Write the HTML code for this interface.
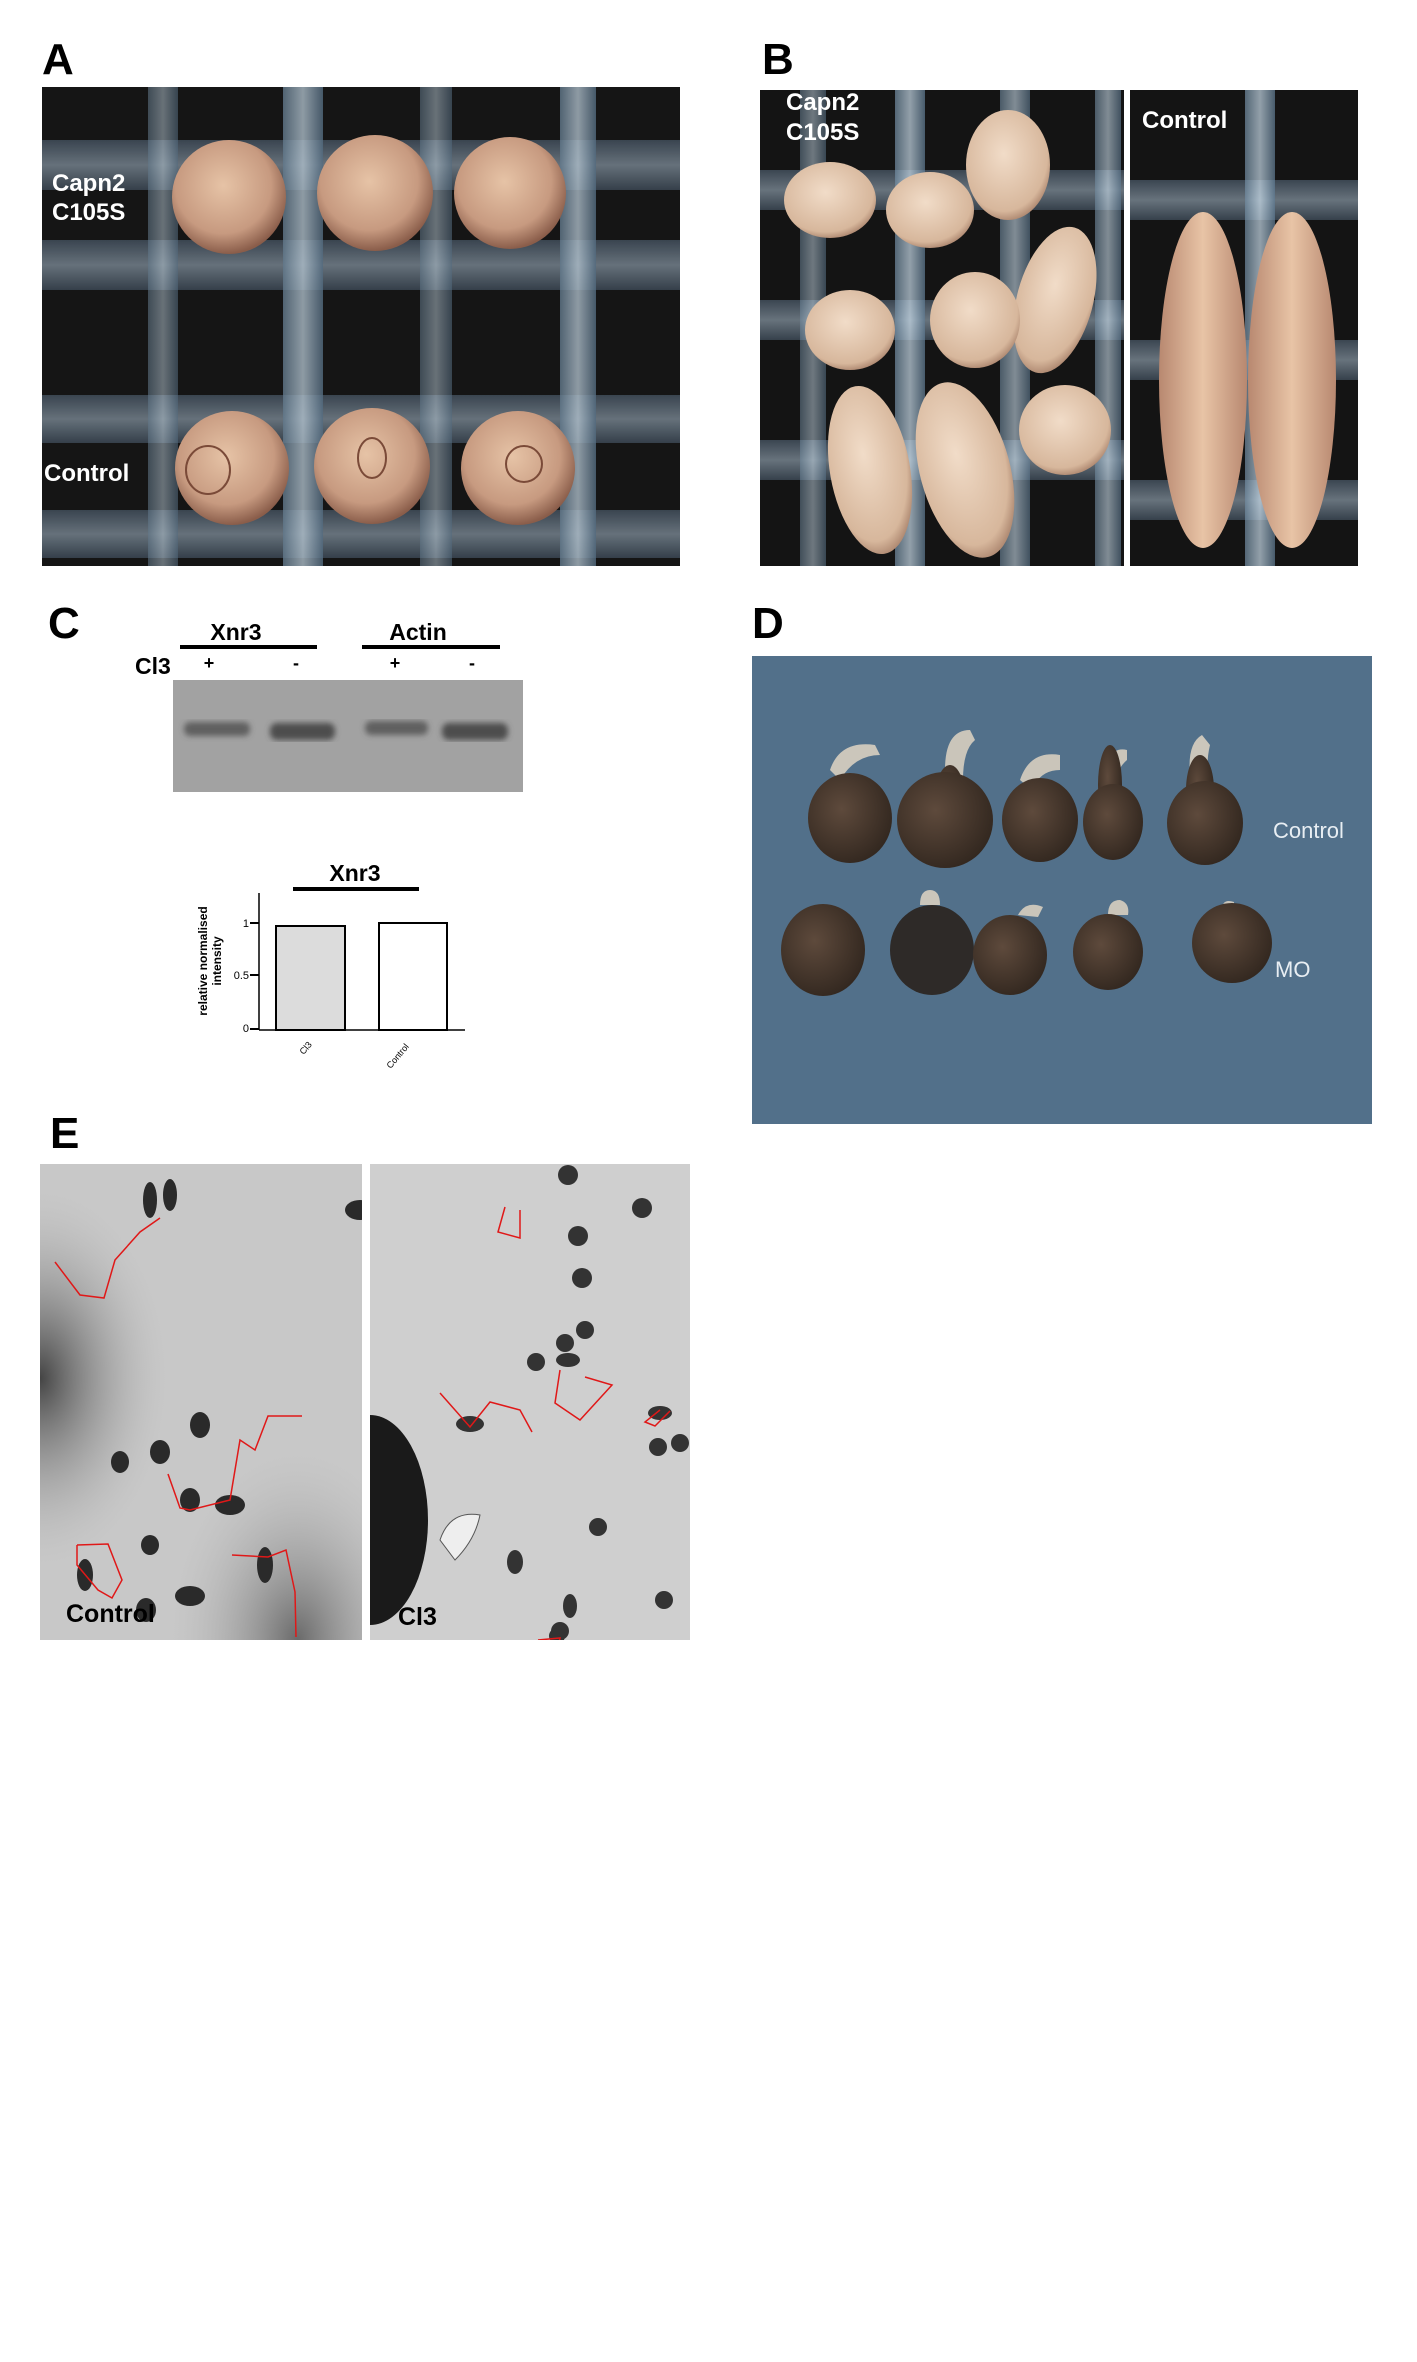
<!DOCTYPE html>
<html><head><meta charset="utf-8"><style>
body{margin:0;background:#fff;}
svg{display:block;font-family:"Liberation Sans",Arial,sans-serif;}
</style></head><body>
<svg width="1417" height="2362" viewBox="0 0 1417 2362" xmlns="http://www.w3.org/2000/svg">
<defs>
<radialGradient id="egg" cx="45%" cy="40%" r="60%"><stop offset="0" stop-color="#e6c3a6"/><stop offset="0.7" stop-color="#c79a80"/><stop offset="1" stop-color="#8a5d4a"/></radialGradient>
<linearGradient id="vb" x1="0" x2="1"><stop offset="0" stop-color="#6f8aa0"/><stop offset="0.5" stop-color="#c9dcea"/><stop offset="1" stop-color="#5e7a92"/></linearGradient>
<linearGradient id="hb" x1="0" x2="0" y1="0" y2="1"><stop offset="0" stop-color="#55677a"/><stop offset="0.5" stop-color="#9fb2c2"/><stop offset="1" stop-color="#4c5e70"/></linearGradient>
<radialGradient id="emb" cx="45%" cy="40%" r="65%"><stop offset="0" stop-color="#f1dcc8"/><stop offset="0.8" stop-color="#d7b79c"/><stop offset="1" stop-color="#9e7660"/></radialGradient>
<linearGradient id="tad" x1="0" x2="1"><stop offset="0" stop-color="#b88870"/><stop offset="0.5" stop-color="#e8c4a6"/><stop offset="1" stop-color="#b88870"/></linearGradient>
<radialGradient id="dk" cx="40%" cy="40%" r="65%"><stop offset="0" stop-color="#5e4a3c"/><stop offset="1" stop-color="#32271f"/></radialGradient>
<radialGradient id="shade1" cx="0%" cy="45%" r="40%"><stop offset="0" stop-color="#444"/><stop offset="1" stop-color="#bbb" stop-opacity="0"/></radialGradient>
<radialGradient id="shade2" cx="80%" cy="100%" r="40%"><stop offset="0" stop-color="#6a6a6a"/><stop offset="1" stop-color="#bbb" stop-opacity="0"/></radialGradient>
<filter id="bl"><feGaussianBlur stdDeviation="3"/></filter>
<clipPath id="ca"><rect x="42" y="87" width="638" height="479"/></clipPath>
<clipPath id="cb1"><rect x="760" y="90" width="364" height="476"/></clipPath>
<clipPath id="cb2"><rect x="1130" y="90" width="228" height="476"/></clipPath>
<clipPath id="ce1"><rect x="40" y="1164" width="322" height="476"/></clipPath>
<clipPath id="ce2"><rect x="370" y="1164" width="320" height="476"/></clipPath>
</defs>

<g font-weight="bold" font-size="44" fill="#000">
<text x="42" y="74">A</text><text x="762" y="74">B</text>
<text x="48" y="638">C</text><text x="752" y="638">D</text>
<text x="50" y="1148">E</text>
</g>

<!-- Panel A -->
<g clip-path="url(#ca)">
<rect x="42" y="87" width="638" height="479" fill="#151515"/>
<g opacity="0.85">
<rect x="42" y="140" width="638" height="50" fill="url(#hb)" opacity="0.7"/>
<rect x="42" y="240" width="638" height="50" fill="url(#hb)" opacity="0.7"/>
<rect x="42" y="395" width="638" height="48" fill="url(#hb)" opacity="0.7"/>
<rect x="42" y="510" width="638" height="48" fill="url(#hb)" opacity="0.7"/>
<rect x="148" y="87" width="30" height="479" fill="url(#vb)" opacity="0.55"/>
<rect x="283" y="87" width="40" height="479" fill="url(#vb)" opacity="0.8"/>
<rect x="420" y="87" width="32" height="479" fill="url(#vb)" opacity="0.55"/>
<rect x="560" y="87" width="36" height="479" fill="url(#vb)" opacity="0.8"/>
</g>
<circle cx="229" cy="197" r="57" fill="url(#egg)"/>
<circle cx="375" cy="193" r="58" fill="url(#egg)"/>
<circle cx="510" cy="193" r="56" fill="url(#egg)"/>
<circle cx="232" cy="468" r="57" fill="url(#egg)"/>
<circle cx="372" cy="466" r="58" fill="url(#egg)"/>
<circle cx="518" cy="468" r="57" fill="url(#egg)"/>
<ellipse cx="208" cy="470" rx="22" ry="24" fill="none" stroke="#7a4a38" stroke-width="2"/>
<ellipse cx="372" cy="458" rx="14" ry="20" fill="none" stroke="#7a4a38" stroke-width="2"/>
<circle cx="524" cy="464" r="18" fill="none" stroke="#7a4a38" stroke-width="2"/>
</g>
<g fill="#fff" font-weight="bold" font-size="24">
<text x="52" y="191">Capn2</text><text x="52" y="220">C105S</text>
<text x="44" y="481">Control</text>
</g>

<!-- Panel B -->
<g clip-path="url(#cb1)">
<rect x="760" y="90" width="364" height="476" fill="#141414"/>
<rect x="760" y="170" width="364" height="40" fill="url(#hb)" opacity="0.6"/>
<rect x="760" y="300" width="364" height="40" fill="url(#hb)" opacity="0.6"/>
<rect x="760" y="440" width="364" height="40" fill="url(#hb)" opacity="0.6"/>
<rect x="800" y="90" width="26" height="476" fill="url(#vb)" opacity="0.5"/>
<rect x="895" y="90" width="30" height="476" fill="url(#vb)" opacity="0.7"/>
<rect x="1000" y="90" width="30" height="476" fill="url(#vb)" opacity="0.6"/>
<rect x="1095" y="90" width="26" height="476" fill="url(#vb)" opacity="0.6"/>
<ellipse cx="830" cy="200" rx="46" ry="38" fill="url(#emb)"/>
<ellipse cx="930" cy="210" rx="44" ry="38" fill="url(#emb)"/>
<ellipse cx="1008" cy="165" rx="42" ry="55" fill="url(#emb)"/>
<ellipse cx="1055" cy="300" rx="38" ry="75" fill="url(#emb)" transform="rotate(15 1055 300)"/>
<ellipse cx="975" cy="320" rx="45" ry="48" fill="url(#emb)"/>
<ellipse cx="850" cy="330" rx="45" ry="40" fill="url(#emb)"/>
<ellipse cx="870" cy="470" rx="40" ry="85" fill="url(#emb)" transform="rotate(-10 870 470)"/>
<ellipse cx="965" cy="470" rx="45" ry="90" fill="url(#emb)" transform="rotate(-15 965 470)"/>
<ellipse cx="1065" cy="430" rx="46" ry="45" fill="url(#emb)"/>
</g>
<g clip-path="url(#cb2)">
<rect x="1130" y="90" width="228" height="476" fill="#141414"/>
<rect x="1130" y="180" width="228" height="40" fill="url(#hb)" opacity="0.6"/>
<rect x="1130" y="340" width="228" height="40" fill="url(#hb)" opacity="0.6"/>
<rect x="1130" y="480" width="228" height="40" fill="url(#hb)" opacity="0.6"/>
<rect x="1245" y="90" width="30" height="476" fill="url(#vb)" opacity="0.7"/>
<ellipse cx="1203" cy="380" rx="44" ry="168" fill="url(#tad)"/>
<ellipse cx="1292" cy="380" rx="44" ry="168" fill="url(#tad)"/>
</g>
<g fill="#fff" font-weight="bold" font-size="24">
<text x="786" y="110">Capn2</text><text x="786" y="140">C105S</text>
<text x="1142" y="128">Control</text>
</g>

<!-- Panel C gel -->
<g font-weight="bold" fill="#000">
<text x="236" y="640" font-size="23" text-anchor="middle">Xnr3</text>
<text x="418" y="640" font-size="23" text-anchor="middle">Actin</text>
<text x="135" y="674" font-size="23">Cl3</text>
<text x="209" y="669" font-size="18" text-anchor="middle">+</text>
<text x="296" y="669" font-size="18" text-anchor="middle">-</text>
<text x="395" y="669" font-size="18" text-anchor="middle">+</text>
<text x="472" y="669" font-size="18" text-anchor="middle">-</text>
</g>
<rect x="180" y="645" width="137" height="4" fill="#000"/>
<rect x="362" y="645" width="138" height="4" fill="#000"/>
<rect x="173" y="680" width="350" height="112" fill="#a2a2a2"/>
<g fill="#4a4a4a" filter="url(#bl)">
<rect x="184" y="722" width="66" height="14" rx="6" opacity="0.75"/>
<rect x="270" y="723" width="65" height="17" rx="7" opacity="0.95"/>
<rect x="365" y="721" width="63" height="14" rx="6" opacity="0.75"/>
<rect x="442" y="723" width="66" height="17" rx="7" opacity="0.95"/>
</g>

<!-- Bar chart -->
<text x="355" y="881" font-size="23" font-weight="bold" text-anchor="middle">Xnr3</text>
<rect x="293" y="887" width="126" height="4" fill="#000"/>
<line x1="259" y1="893" x2="259" y2="1030" stroke="#000" stroke-width="1.5"/>
<line x1="259" y1="1030" x2="465" y2="1030" stroke="#000" stroke-width="1.5"/>
<rect x="276" y="926" width="69" height="104" fill="#dcdcdc" stroke="#000" stroke-width="2"/>
<rect x="379" y="923" width="68" height="107" fill="#fff" stroke="#000" stroke-width="2"/>
<g stroke="#000" stroke-width="2"><line x1="250" y1="923" x2="259" y2="923"/><line x1="250" y1="975" x2="259" y2="975"/><line x1="250" y1="1029" x2="259" y2="1029"/></g>
<g font-size="11" text-anchor="end"><text x="249" y="927">1</text><text x="249" y="979">0.5</text><text x="249" y="1032">0</text></g>
<text transform="translate(207 961) rotate(-90)" font-size="12" font-weight="bold" text-anchor="middle">relative  normalised</text>
<text transform="translate(221 961) rotate(-90)" font-size="12" font-weight="bold" text-anchor="middle">intensity</text>
<text transform="translate(308 1050) rotate(-50)" font-size="9" text-anchor="middle">Cl3</text>
<text transform="translate(400 1058) rotate(-50)" font-size="9" text-anchor="middle">Control</text>

<!-- Panel D -->
<rect x="752" y="656" width="620" height="468" fill="#52708a"/>
<g fill="#d8cfc0" opacity="0.9">
<path d="M830 770 q10 -30 45 -25 l5 10 q-25 0 -40 25z"/>
<path d="M945 770 q0 -40 25 -40 l5 10 q-12 10 -12 40z"/>
<path d="M1020 780 q10 -30 40 -25 l0 15 q-20 0 -28 20z"/>
<path d="M1102 780 q5 -35 25 -30 l0 10 q-12 10 -12 30z"/>
<path d="M1192 790 q-8 -45 10 -55 l8 10 q-5 20 0 45z"/>
<path d="M920 905 q0 -15 10 -15 q10 0 10 15z"/>
<path d="M1018 915 q8 -15 25 -8 l-5 10z"/>
<path d="M1108 915 q0 -15 12 -15 q10 3 8 15z"/>
<path d="M1222 910 q0 -12 12 -8 l0 10z"/>
</g>
<g fill="url(#dk)">
<ellipse cx="850" cy="818" rx="42" ry="45"/>
<ellipse cx="950" cy="805" rx="16" ry="40"/>
<ellipse cx="945" cy="820" rx="48" ry="48"/>
<ellipse cx="1040" cy="820" rx="38" ry="42"/>
<ellipse cx="1110" cy="785" rx="12" ry="40"/>
<ellipse cx="1113" cy="822" rx="30" ry="38"/>
<ellipse cx="1200" cy="790" rx="14" ry="35"/>
<ellipse cx="1205" cy="823" rx="38" ry="42"/>
<ellipse cx="823" cy="950" rx="42" ry="46"/>
<ellipse cx="932" cy="950" rx="42" ry="45" fill="#2e2a28"/>
<ellipse cx="1010" cy="955" rx="37" ry="40"/>
<ellipse cx="1108" cy="952" rx="35" ry="38"/>
<ellipse cx="1232" cy="943" rx="40" ry="40"/>
</g>
<g fill="#e8eef3" font-size="22"><text x="1273" y="838">Control</text><text x="1275" y="977">MO</text></g>

<!-- Panel E -->
<g clip-path="url(#ce1)">
<rect x="40" y="1164" width="322" height="476" fill="#c8c8c8"/>
<rect x="40" y="1164" width="322" height="476" fill="url(#shade1)"/>
<rect x="40" y="1164" width="322" height="476" fill="url(#shade2)"/>
<g fill="#2a2a2a">
<ellipse cx="150" cy="1200" rx="7" ry="18"/><ellipse cx="170" cy="1195" rx="7" ry="16"/>
<ellipse cx="200" cy="1425" rx="10" ry="13"/><ellipse cx="160" cy="1452" rx="10" ry="12"/>
<ellipse cx="120" cy="1462" rx="9" ry="11"/><ellipse cx="190" cy="1500" rx="10" ry="12"/>
<ellipse cx="230" cy="1505" rx="15" ry="10"/><ellipse cx="150" cy="1545" rx="9" ry="10"/>
<ellipse cx="190" cy="1596" rx="15" ry="10"/><ellipse cx="265" cy="1565" rx="8" ry="18"/>
<ellipse cx="146" cy="1610" rx="10" ry="12"/><ellipse cx="85" cy="1575" rx="8" ry="16"/>
<ellipse cx="360" cy="1210" rx="15" ry="10"/>
</g>
<g fill="none" stroke="#e01818" stroke-width="1.5">
<polyline points="55,1262 80,1295 104,1298 115,1260 140,1232 160,1218"/>
<polyline points="168,1474 180,1508 190,1510 230,1500 240,1440 255,1450 268,1416 302,1416"/>
<polyline points="77,1545 108,1544 122,1580 112,1598 98,1590 77,1565 77,1545"/>
<polyline points="232,1555 268,1557 286,1550 295,1592 296,1637"/>
</g>
</g>
<g clip-path="url(#ce2)">
<rect x="370" y="1164" width="320" height="476" fill="#cfcfcf"/>
<ellipse cx="370" cy="1520" rx="58" ry="105" fill="#1a1a1a"/>
<path d="M440 1540 q10 -30 40 -25 q-5 25 -25 45 z" fill="#eee" stroke="#555"/>
<g fill="#333">
<circle cx="568" cy="1175" r="10"/><circle cx="578" cy="1236" r="10"/><circle cx="582" cy="1278" r="10"/>
<circle cx="642" cy="1208" r="10"/><circle cx="565" cy="1343" r="9"/><circle cx="585" cy="1330" r="9"/>
<circle cx="536" cy="1362" r="9"/><circle cx="598" cy="1527" r="9"/><circle cx="658" cy="1447" r="9"/>
<circle cx="680" cy="1443" r="9"/><circle cx="664" cy="1600" r="9"/><circle cx="560" cy="1631" r="9"/>
<ellipse cx="470" cy="1424" rx="14" ry="8"/><ellipse cx="568" cy="1360" rx="12" ry="7"/>
<ellipse cx="660" cy="1413" rx="12" ry="7"/><ellipse cx="515" cy="1562" rx="8" ry="12"/>
<ellipse cx="570" cy="1606" rx="7" ry="12"/><ellipse cx="557" cy="1636" rx="8" ry="8"/>
</g>
<g fill="none" stroke="#e01818" stroke-width="1.5">
<polyline points="440,1393 470,1427 490,1402 520,1410 532,1432"/>
<polyline points="560,1370 555,1403 580,1420 612,1385 585,1377"/>
<polyline points="660,1410 645,1422 655,1426 670,1411"/>
<polyline points="505,1207 498,1232 520,1238 520,1210"/>
<polyline points="510,1668 535,1672"/>
<polyline points="527,1653 555,1660 560,1638 538,1640"/>
<polyline points="560,1690 580,1698 595,1690"/>
</g>
</g>
<g font-weight="bold" font-size="25" fill="#000"><text x="66" y="1622">Control</text><text x="398" y="1625">Cl3</text></g>
</svg>
</body></html>
